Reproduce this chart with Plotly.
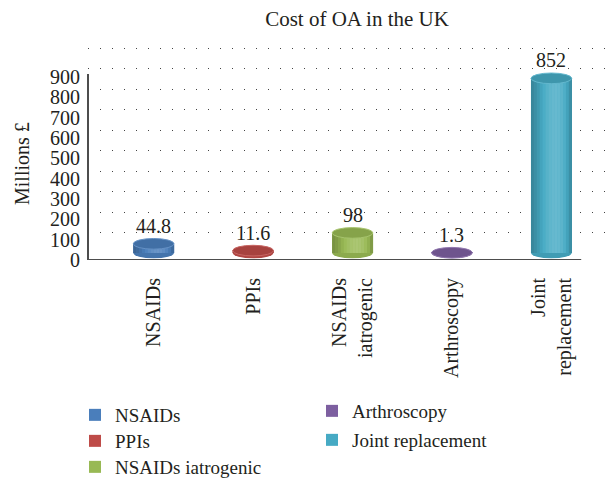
import math
import plotly.graph_objects as go

# ---------------- data ----------------
categories = ["NSAIDs", "PPIs", "NSAIDs iatrogenic", "Arthroscopy", "Joint replacement"]
tick_labels = ["NSAIDs", "PPIs", "NSAIDs<br>iatrogenic", "Arthroscopy", "Joint<br>replacement"]
values = [44.8, 11.6, 98, 1.3, 852]
value_labels = ["44.8", "11.6", "98", "1.3", "852"]
colors = ["#4a7ebb", "#be4b48", "#98b954", "#7d5fa0", "#46aac4"]
y_tick_values = [0, 100, 200, 300, 400, 500, 600, 700, 800, 900]
grid_values = [100, 200, 300, 400, 500, 600, 700, 800, 900, 1000]
title_text = "Cost of OA in the UK"
y_title = "Millions £"

# ---------------- style ----------------
FONT = "Liberation Serif"
TXT = "#231f20"
BAR_W = 0.41
N_STRIPS = 14
ELL_H = 52  # ellipse height in bar-axis units
OFF = 8  # page body margin
W, H = 616 - OFF, 479 - OFF
# plot area in reference-page pixels, converted to figure pixels
PL, PR, PT, PB = 88 - OFF, 616 - OFF, 40 - OFF, 260 - OFF
# legend entry placement (reference-page pixels: left x, row centre y)
legend_pos = [(75, 412), (75, 438), (75, 464), (312, 408), (312, 437)]


def px_x(p):
    return (p - OFF - PL) / (PR - PL)


def px_y(p):
    return (PB - (p - OFF)) / (PB - PT)


def shade(hx, f):
    r, g, b = int(hx[1:3], 16), int(hx[3:5], 16), int(hx[5:7], 16)
    if f >= 0:
        r, g, b = [c + (255 - c) * f for c in (r, g, b)]
    else:
        r, g, b = [c * (1 + f) for c in (r, g, b)]
    return "rgb(%d,%d,%d)" % (round(r), round(g), round(b))


fig = go.Figure()
xs = list(range(len(categories)))
legend_ids = ["legend"] + ["legend%d" % (k + 1) for k in range(1, len(categories))]

# main bars (with legend entries)
for i, (cat, v, col) in enumerate(zip(categories, values, colors)):
    fig.add_trace(go.Bar(
        x=[xs[i]], y=[v], name=cat, width=BAR_W,
        marker=dict(color=col, line=dict(width=0)),
        yaxis="y2", hoverinfo="skip", legend=legend_ids[i],
    ))

# cylinder shading strips
for i, (v, col) in enumerate(zip(values, colors)):
    sw = BAR_W / N_STRIPS
    for k in range(N_STRIPS):
        t = (k + 0.5) / N_STRIPS
        f = -0.22 + 0.40 * math.sin(math.pi * t ** 1.357)
        fig.add_trace(go.Bar(
            x=[xs[i]], y=[v], width=sw * 1.08, offset=-BAR_W / 2 + k * sw,
            marker=dict(color=shade(col, f), line=dict(width=0)),
            yaxis="y2", showlegend=False, hoverinfo="skip",
        ))

shapes = []
for i, (v, col) in enumerate(zip(values, colors)):
    # bottom ellipse
    shapes.append(dict(type="circle", xref="x", yref="y2", layer="below",
                       x0=xs[i] - BAR_W / 2, x1=xs[i] + BAR_W / 2,
                       y0=-ELL_H / 2, y1=ELL_H / 2,
                       fillcolor=shade(col, -0.08), line=dict(width=0)))
    # top ellipse
    shapes.append(dict(type="circle", xref="x", yref="y2", layer="above",
                       x0=xs[i] - BAR_W / 2, x1=xs[i] + BAR_W / 2,
                       y0=v - ELL_H / 2, y1=v + ELL_H / 2,
                       fillcolor=shade(col, -0.12),
                       line=dict(width=1, color=shade(col, 0.15))))

# axis lines
shapes.append(dict(type="line", xref="paper", yref="y", x0=0, x1=0, y0=0, y1=915,
                   line=dict(color="#4d4d4d", width=2), layer="above"))
shapes.append(dict(type="line", xref="x", yref="y", x0=-0.66, x1=4.30, y0=0, y1=0,
                   line=dict(color="#4d4d4d", width=2), layer="above"))

annotations = []
for i, (v, lab) in enumerate(zip(values, value_labels)):
    annotations.append(dict(x=xs[i], y=v, xref="x", yref="y2", text=lab,
                            showarrow=False, yanchor="bottom", yshift=5,
                            font=dict(family=FONT, size=20, color=TXT)))
annotations.append(dict(x=px_x(22), y=px_y(164), xref="paper", yref="paper", text=y_title,
                        textangle=-90, showarrow=False, xanchor="center", yanchor="middle",
                        font=dict(family=FONT, size=20, color=TXT)))

# back-wall axis (grid + cylinders): 0 at 253px, 100 units per 20.5px (reference page)
wall_scale = 20.5 / 100.0
y2_range = [-(260 - 253) / wall_scale, (253 - 40) / wall_scale]

legends = {}
for lid, (lx, ly) in zip(legend_ids, legend_pos):
    legends[lid] = dict(x=px_x(lx), y=px_y(ly - 16), xref="paper", yref="paper",
                        xanchor="left", yanchor="top", bgcolor="rgba(0,0,0,0)",
                        font=dict(family=FONT, size=19, color=TXT), tracegroupgap=0)

fig.update_layout(
    width=W, height=H,
    margin=dict(l=PL, r=W - PR, t=PT, b=H - PB, autoexpand=False),
    paper_bgcolor="white", plot_bgcolor="white",
    barmode="overlay",
    title=dict(text=title_text, x=(357 - OFF) / W, xref="container", xanchor="center",
               y=1 - 3 / H, yref="container", yanchor="top", pad=dict(t=0, b=0),
               font=dict(family=FONT, size=21, color=TXT)),
    font=dict(family=FONT, size=20, color=TXT),
    xaxis=dict(range=[-0.66, 4.65], tickvals=xs, ticktext=tick_labels, tickangle=-90,
               showgrid=False, zeroline=False, showline=False, automargin=False,
               ticks="outside", ticklen=9, tickcolor="rgba(0,0,0,0)",
               tickfont=dict(family=FONT, size=20, color=TXT)),
    yaxis=dict(range=[0, 1082], tickvals=y_tick_values, showgrid=False, zeroline=False,
               showline=False, ticks="outside", ticklen=3, tickcolor="rgba(0,0,0,0)",
               automargin=False, tickfont=dict(family=FONT, size=20, color=TXT)),
    yaxis2=dict(range=y2_range, overlaying="y", tickvals=grid_values,
                showticklabels=False, showgrid=True, gridcolor="#444444",
                griddash="1px,11px", gridwidth=1, zeroline=False, showline=False),
    shapes=shapes,
    annotations=annotations,
    **legends,
)

fig.write_html("out.html")
